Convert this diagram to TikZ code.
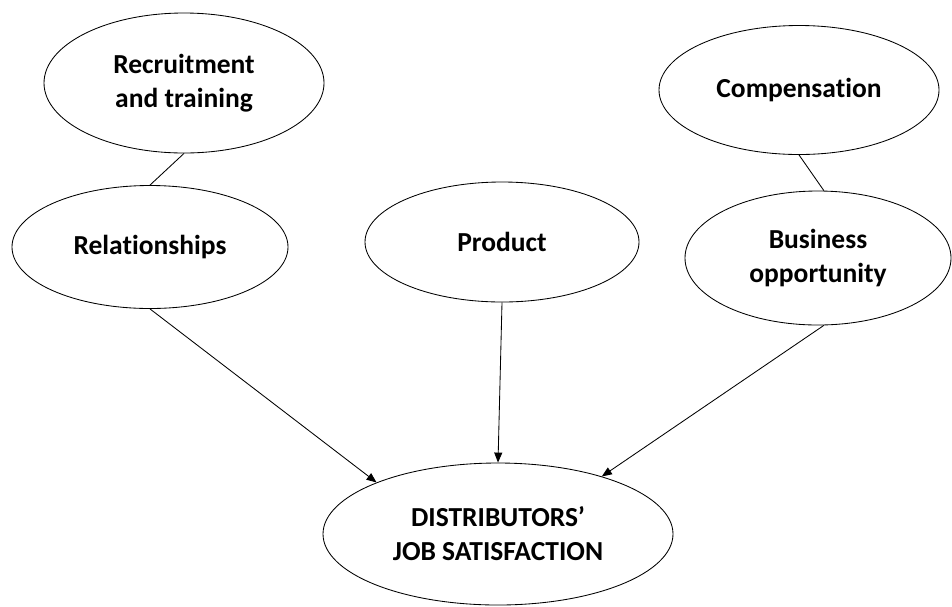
\documentclass[tikz,border=0pt]{standalone}
\usepackage{fontspec}
\setmainfont{Carlito}[Ligatures=NoCommon]
\usetikzlibrary{shapes.geometric,arrows.meta}
\begin{document}
\begin{tikzpicture}[x=1pt,y=-1pt,
  factor/.style={draw=black,line width=0.85pt,ellipse,inner sep=0pt,
    align=center,font=\fontsize{27.5}{34}\selectfont\bfseries},
  link/.style={draw=black,line width=0.85pt},
  arrowlink/.style={link,-{Triangle[length=10pt,width=8pt]}}]
\useasboundingbox (0,0) rectangle (952,606);
\node[factor,minimum width=280pt,minimum height=140pt] (rec) at (184,83) {Recruitment\\and training};
\node[factor,minimum width=280pt,minimum height=129pt] (comp) at (799,90) {Compensation};
\node[factor,minimum width=276pt,minimum height=123pt] (rel) at (150,247) {Relationships};
\node[factor,minimum width=274pt,minimum height=120pt] (prod) at (502,242) {Product};
\node[factor,minimum width=266pt,minimum height=134pt] (bus) at (818,258) {Business\\opportunity};
\node[factor,minimum width=350pt,minimum height=142pt] (dist) at (498,534) {DISTRIBUTORS’\\JOB SATISFACTION};
\draw[link] (rec.south) -- (rel.north);
\draw[link] (comp.south) -- (bus.85);
\draw[arrowlink] (rel.south) -- (dist.157.8);
\draw[arrowlink] (prod.south) -- (dist.north);
\draw[arrowlink] (bus.275) -- (dist.29);
\end{tikzpicture}
\end{document}
